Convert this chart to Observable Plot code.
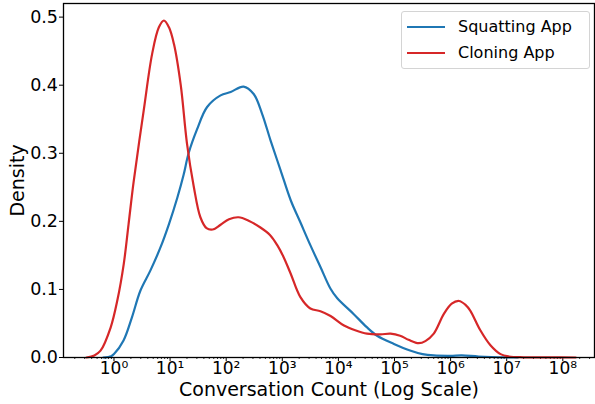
<!DOCTYPE html>
<html><head><meta charset="utf-8">
<script src="https://cdn.jsdelivr.net/npm/d3@7"></script>
<script src="https://cdn.jsdelivr.net/npm/@observablehq/plot@0.6"></script>
<style>
body{margin:0;background:#fff;font-family:"DejaVu Sans",sans-serif;}
#wrap{position:relative;width:595px;height:404px;}
.legend{position:absolute;left:401px;top:11px;width:189px;height:58px;border:1px solid #d4d4d4;border-radius:3px;background:rgba(255,255,255,0.8);box-sizing:border-box;}
.sw{position:absolute;left:5px;width:38px;height:0;border-top:2.2px solid;}
.lab{position:absolute;left:56px;font-size:16px;line-height:16px;white-space:nowrap;color:#000;}
</style></head>
<body>
<div id="wrap"></div>
<script>
// Series: x as log10(conversation count), y as density
const squattingLog = [-0.19,-0.05,0.0,0.17,0.32,0.47,0.65,0.83,0.98,1.13,1.24,1.33,1.48,1.66,1.90,2.08,2.31,2.49,2.64,2.79,2.97,3.15,3.32,3.50,3.68,3.86,3.98,4.27,4.50,4.69,4.99,5.29,5.50,5.70,6.0,6.2,6.5,7.0,7.2];
const squattingDensity = [0,0.002,0.005,0.025,0.059,0.098,0.128,0.162,0.196,0.235,0.268,0.300,0.335,0.368,0.385,0.390,0.398,0.387,0.358,0.319,0.275,0.231,0.199,0.165,0.133,0.101,0.087,0.064,0.045,0.032,0.020,0.010,0.005,0.003,0.0025,0.003,0.0015,0.0002,0];
const cloningLog = [-0.49,-0.35,-0.24,-0.06,0.06,0.175,0.26,0.35,0.53,0.68,0.80,0.89,0.98,1.07,1.19,1.30,1.42,1.54,1.65,1.76,1.90,2.05,2.22,2.40,2.61,2.78,2.91,3.02,3.15,3.32,3.50,3.68,3.86,4.10,4.30,4.51,4.75,4.93,5.10,5.25,5.43,5.55,5.70,5.88,6.02,6.15,6.27,6.35,6.53,6.71,6.89,7.04,7.3,7.8,8.23];
const cloningDensity = [0,0.003,0.010,0.044,0.084,0.138,0.196,0.258,0.363,0.446,0.485,0.495,0.485,0.460,0.400,0.315,0.252,0.206,0.190,0.188,0.195,0.203,0.206,0.201,0.191,0.180,0.165,0.148,0.123,0.089,0.072,0.068,0.061,0.047,0.040,0.035,0.034,0.035,0.032,0.026,0.021,0.024,0.035,0.064,0.079,0.083,0.077,0.069,0.040,0.018,0.005,0.0015,0.0003,0.0001,0];
const seriesNames = ["Squatting App","Cloning App"];
const seriesColors = ["#1f77b4","#d62728"];
const xTickExponents = [0,1,2,3,4,5,6,7,8];
const yTicks = [0,0.1,0.2,0.3,0.4,0.5];

const squat = squattingLog.map((l,i)=>({x:10**l,y:squattingDensity[i]}));
const clone = cloningLog.map((l,i)=>({x:10**l,y:cloningDensity[i]}));
const majorTicks = xTickExponents.map(e=>10**e);
const minorTicks = [];
for (let e=-1;e<=8;e++) for (let m=2;m<=9;m++) minorTicks.push(m*10**e);
const xDomain = [10**-0.90, 10**8.565];
const minorIn = minorTicks.filter(v=>v>=xDomain[0]&&v<=xDomain[1]);
const supDigits = {"0":"⁰","1":"¹","2":"²","3":"³","4":"⁴","5":"⁵","6":"⁶","7":"⁷","8":"⁸","9":"⁹","-":"⁻"};
const fmt = d => "10" + String(Math.round(Math.log10(d))).split("").map(c=>supDigits[c]).join("");

const chart = Plot.plot({
  width:595, height:404,
  marginLeft:63, marginRight:1, marginTop:3, marginBottom:47,
  style:{fontFamily:"DejaVu Sans", color:"#000", background:"#fff"},
  x:{type:"log", domain:xDomain},
  y:{domain:[0,0.52]},
  marks:[
    Plot.axisX(minorIn,{tickSize:2, text:null, label:null, strokeWidth:0.8}),
    Plot.axisX(majorTicks,{tickSize:4, tickPadding:0, tickFormat:fmt, fontSize:17, label:null, strokeWidth:1}),
    Plot.axisY(yTicks,{tickSize:4, tickPadding:1.5, tickFormat:d3.format(".1f"), fontSize:17.5, label:null, strokeWidth:1}),
    Plot.line(squat,{x:"x",y:"y",stroke:seriesColors[0],strokeWidth:2.2,curve:"catmull-rom"}),
    Plot.line(clone,{x:"x",y:"y",stroke:seriesColors[1],strokeWidth:2.2,curve:"catmull-rom"}),
    Plot.frame({stroke:"#000", strokeWidth:1.3}),
    Plot.text(["Density"],{frameAnchor:"left", rotate:-90, dx:-46, textAnchor:"middle", lineAnchor:"middle", fontSize:19, fill:"#000"}),
    Plot.text(["Conversation Count (Log Scale)"],{frameAnchor:"bottom", dy:32.5, textAnchor:"middle", lineAnchor:"middle", fontSize:19, fill:"#000"})
  ]
});
const wrap = document.getElementById("wrap");
wrap.appendChild(chart);
const lg = document.createElement("div");
lg.className = "legend";
const centers = [14.7, 40.7];
seriesNames.forEach((n,i)=>{
  const sw = document.createElement("div");
  sw.className="sw"; sw.style.top=(centers[i]-1.1)+"px"; sw.style.borderTopColor=seriesColors[i];
  const t = document.createElement("div");
  t.className="lab"; t.style.top=(centers[i]-8)+"px"; t.textContent=n;
  lg.appendChild(sw); lg.appendChild(t);
});
wrap.appendChild(lg);
</script>
</body></html>
